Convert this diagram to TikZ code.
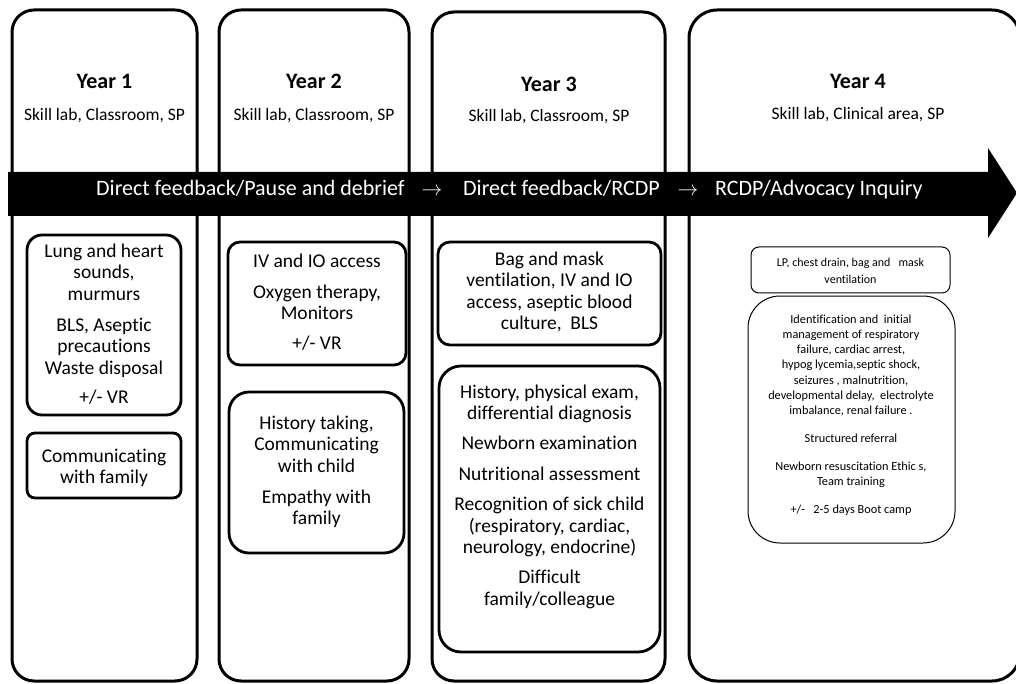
\documentclass[tikz,border=0pt]{standalone}
\usepackage{fontspec}
\setmainfont[Ligatures=NoCommon]{Carlito}
\begin{document}
\begin{tikzpicture}[x=1pt,y=-1pt,
  col/.style={draw=black, line width=3pt, anchor=north west, inner sep=0pt, outer sep=0pt},
  inbox/.style={draw=black, line width=2.8pt, anchor=north west, inner sep=0pt, outer sep=0pt},
  thinbox/.style={draw=black, line width=1pt, anchor=north west, inner sep=0pt, outer sep=0pt},
  head/.style={anchor=base, inner sep=0pt, font={\fontsize{22}{26}\selectfont\bfseries}},
  sub/.style={anchor=base, inner sep=0pt, font={\fontsize{17.5}{21}\selectfont}},
  bandtxt/.style={anchor=base west, inner sep=0pt, text=white, font={\fontsize{22}{26}\selectfont}},
  bandarr/.style={anchor=base, inner sep=0pt, text=white, font={\fontsize{22}{26}\selectfont}},
  body/.style={anchor=north, inner sep=0pt, align=center, font={\fontsize{19.5}{21.5}\selectfont}},
  small/.style={anchor=north, inner sep=0pt, align=center, font={\fontsize{12.3}{15.2}\selectfont}},
  lp/.style={anchor=north, inner sep=0pt, align=center, font={\fontsize{12}{17.5}\selectfont}}
]
\useasboundingbox (0,0) rectangle (1016,684);
\fill[white] (0,0) rectangle (1016,684);

% year columns
\node[col, rounded corners=22pt, minimum width=185pt, minimum height=671pt] (c1) at (12,10) {};
\node[col, rounded corners=22pt, minimum width=190pt, minimum height=671pt] (c2) at (219,10) {};
\node[col, rounded corners=22pt, minimum width=233pt, minimum height=669pt] (c3) at (432,12) {};
\node[col, rounded corners=28pt, minimum width=331pt, minimum height=671pt] (c4) at (689,10) {};

% headings
\node[head] (h1) at (104.5,89) {Year 1};
\node[sub]  (s1) at (104.5,121) {Skill lab, Classroom, SP};
\node[head] (h2) at (314,89) {Year 2};
\node[sub]  (s2) at (314,121) {Skill lab, Classroom, SP};
\node[head] (h3) at (549,92) {Year 3};
\node[sub]  (s3) at (549,122) {Skill lab, Classroom, SP};
\node[head] (h4) at (858,89) {Year 4};
\node[sub]  (s4) at (858,120) {Skill lab, Clinical area, SP};

% band arrow
\fill[black] (8,172) -- (988,172) -- (988,148) -- (1017,193) -- (988,238) -- (988,216) -- (8,216) -- cycle;
\node[bandtxt] (n1) at (96,196) {Direct feedback/Pause and debrief};
\node[bandarr] (a1) at (432,196) {$\rightarrow$};
\node[bandtxt] (n2) at (463,196) {Direct feedback/RCDP};
\node[bandarr] (a2) at (688,196) {$\rightarrow$};
\node[bandtxt] (n3) at (715,196) {RCDP/Advocacy Inquiry};

% year 1 boxes
\node[inbox, rounded corners=15pt, minimum width=154pt, minimum height=180pt] (b1a) at (27,235) {};
\node[body] (t1a) at (104,242) {\strut Lung and heart\\sounds,\\murmurs\\[9.5pt]BLS, Aseptic\\precautions\\Waste disposal\\[7.5pt]+/- VR};
\node[inbox, rounded corners=8pt, minimum width=154pt, minimum height=65pt] (b1b) at (27,433) {};
\node[body] (t1b) at (104,447) {\strut Communicating\\with family};

% year 2 boxes
\node[inbox, rounded corners=12pt, minimum width=178pt, minimum height=123pt] (b2a) at (228,242) {};
\node[body] (t2a) at (317,252) {\strut IV and IO access\\[9.5pt]Oxygen therapy,\\Monitors\\[8.5pt]+/- VR};
\node[inbox, rounded corners=20pt, minimum width=175pt, minimum height=161pt] (b2b) at (229,392) {};
\node[body] (t2b) at (316.5,414) {\strut History taking,\\Communicating\\with child\\[9.5pt]Empathy with\\family};

% year 3 boxes
\node[inbox, rounded corners=12pt, minimum width=223pt, minimum height=103pt] (b3a) at (438,242) {};
\node[body] (t3a) at (549.5,250) {\strut Bag and mask\\ventilation, IV and IO\\access, aseptic blood\\culture,\ \ BLS};
\node[inbox, rounded corners=22pt, minimum width=221pt, minimum height=286pt] (b3b) at (439,366) {};
\node[body] (t3b) at (549.5,383) {\strut History, physical exam,\\differential diagnosis\\[8.5pt]Newborn examination\\[9.5pt]Nutritional assessment\\[8.5pt]Recognition of sick child\\(respiratory, cardiac,\\neurology, endocrine)\\[8.5pt]Difficult\\family/colleague};

% year 4 boxes
\node[thinbox, rounded corners=8pt, minimum width=199pt, minimum height=46pt] (b4a) at (751,247) {};
\node[lp] (t4a) at (850.5,253.75) {\strut LP, chest drain, bag and\ \ \ mask\\ventilation};
\node[thinbox, rounded corners=32pt, minimum width=207pt, minimum height=247pt] (b4b) at (748,296) {};
\node[small] (t4b) at (851,312.4) {\strut Identification and\ \ initial\\management of respiratory\\failure, cardiac arrest,\\hypog lycemia,septic shock,\\seizures , malnutrition,\\developmental delay,\ \ electrolyte\\imbalance, renal failure .\\[12.8pt]Structured referral\\[12.8pt]Newborn resuscitation Ethic s,\\Team training\\[12.8pt]+/-\ \ \ 2-5 days Boot camp};
\end{tikzpicture}
\end{document}
